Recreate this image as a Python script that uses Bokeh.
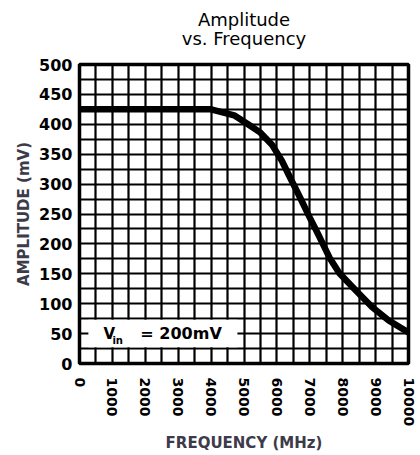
from bokeh.plotting import figure
from bokeh.models import Range1d, FixedTicker, SingleIntervalTicker, Title, Label
from bokeh.embed import file_html
from bokeh.resources import INLINE

# ---- data ----
freq_mhz = [0, 1000, 2000, 3000, 4000, 4700, 5100, 5500, 5850, 6150, 6400, 6700,
            7000, 7300, 7600, 7900, 8400, 8900, 9400, 10000]
amplitude_mv = [425, 425, 425, 425, 425, 415, 401, 386, 366, 339, 311, 278,
                244, 211, 177, 151, 122, 94, 72, 52]

x_ticks = [0, 1000, 2000, 3000, 4000, 5000, 6000, 7000, 8000, 9000, 10000]
y_ticks = [0, 50, 100, 150, 200, 250, 300, 350, 400, 450, 500]

title_line1 = "Amplitude"
title_line2 = "vs. Frequency"
x_title = "FREQUENCY (MHz)"
y_title = "AMPLITUDE (mV)"
note_v = "V"
note_sub = "in"
note_rest = "= 200mV"

LABEL_COLOR = "#3d3a4a"

p = figure(width=420, height=455, output_backend="svg", toolbar_location=None,
           title=None,
           x_range=Range1d(0, 10000), y_range=Range1d(0, 500),
           min_border_left=79, min_border_right=12,
           min_border_top=64, min_border_bottom=92)

p.background_fill_color = "white"
p.border_fill_color = "white"
p.outline_line_color = "black"
p.outline_line_width = 3.5

# grid
p.xgrid.ticker = SingleIntervalTicker(interval=500, num_minor_ticks=0)
p.ygrid.ticker = SingleIntervalTicker(interval=25, num_minor_ticks=0)
for g in (p.xgrid, p.ygrid):
    g.grid_line_color = "black"
    g.grid_line_width = 2.2
    g.grid_line_alpha = 1.0

# axes
p.xaxis.ticker = FixedTicker(ticks=x_ticks)
p.yaxis.ticker = FixedTicker(ticks=y_ticks)
for ax in (p.xaxis, p.yaxis):
    ax.axis_line_color = None
    ax.major_tick_line_color = None
    ax.minor_tick_line_color = None
    ax.major_label_text_color = "black"
    ax.major_label_text_font = "DejaVu Sans"
    ax.major_label_text_font_style = "bold"
    ax.axis_label_text_font = "DejaVu Sans"
    ax.axis_label_text_font_style = "bold"
    ax.axis_label_text_color = LABEL_COLOR
    ax.axis_label_text_font_size = "15px"

p.yaxis.major_label_text_font_size = "16px"
p.yaxis.major_label_standoff = 1
p.yaxis.axis_label = y_title
p.yaxis.axis_label_standoff = 3

p.xaxis.major_label_text_font_size = "14px"
p.xaxis.major_label_orientation = "vertical"
p.xaxis.major_label_standoff = 8
p.xaxis.axis_label = x_title
p.xaxis.axis_label_standoff = 5

# curve
p.line(freq_mhz, amplitude_mv, line_color="black", line_width=6.5)

# white note box
p.quad(left=270, right=4800, bottom=27, top=73, fill_color="white", line_color=None)
p.add_layout(Label(x=730, y=50, text=note_v, text_font="DejaVu Sans", text_font_style="bold",
                   text_font_size="15px", text_baseline="middle", text_color="black"))
p.add_layout(Label(x=1000, y=38, text=note_sub, text_font="DejaVu Sans", text_font_style="bold",
                   text_font_size="10px", text_baseline="middle", text_color="black"))
p.add_layout(Label(x=1850, y=50, text=note_rest, text_font="DejaVu Sans", text_font_style="bold",
                   text_font_size="16px", text_baseline="middle", text_color="black"))

# titles (first added sits closest to the plot)
p.add_layout(Title(text=title_line2, align="center", text_font="DejaVu Sans",
                   text_font_style="normal", text_font_size="18px", text_color="black",
                   standoff=32), "above")
p.add_layout(Title(text=title_line1, align="center", text_font="DejaVu Sans",
                   text_font_style="normal", text_font_size="18px", text_color="black",
                   standoff=-40), "above")

open("out.html", "w").write(file_html(p, INLINE))
